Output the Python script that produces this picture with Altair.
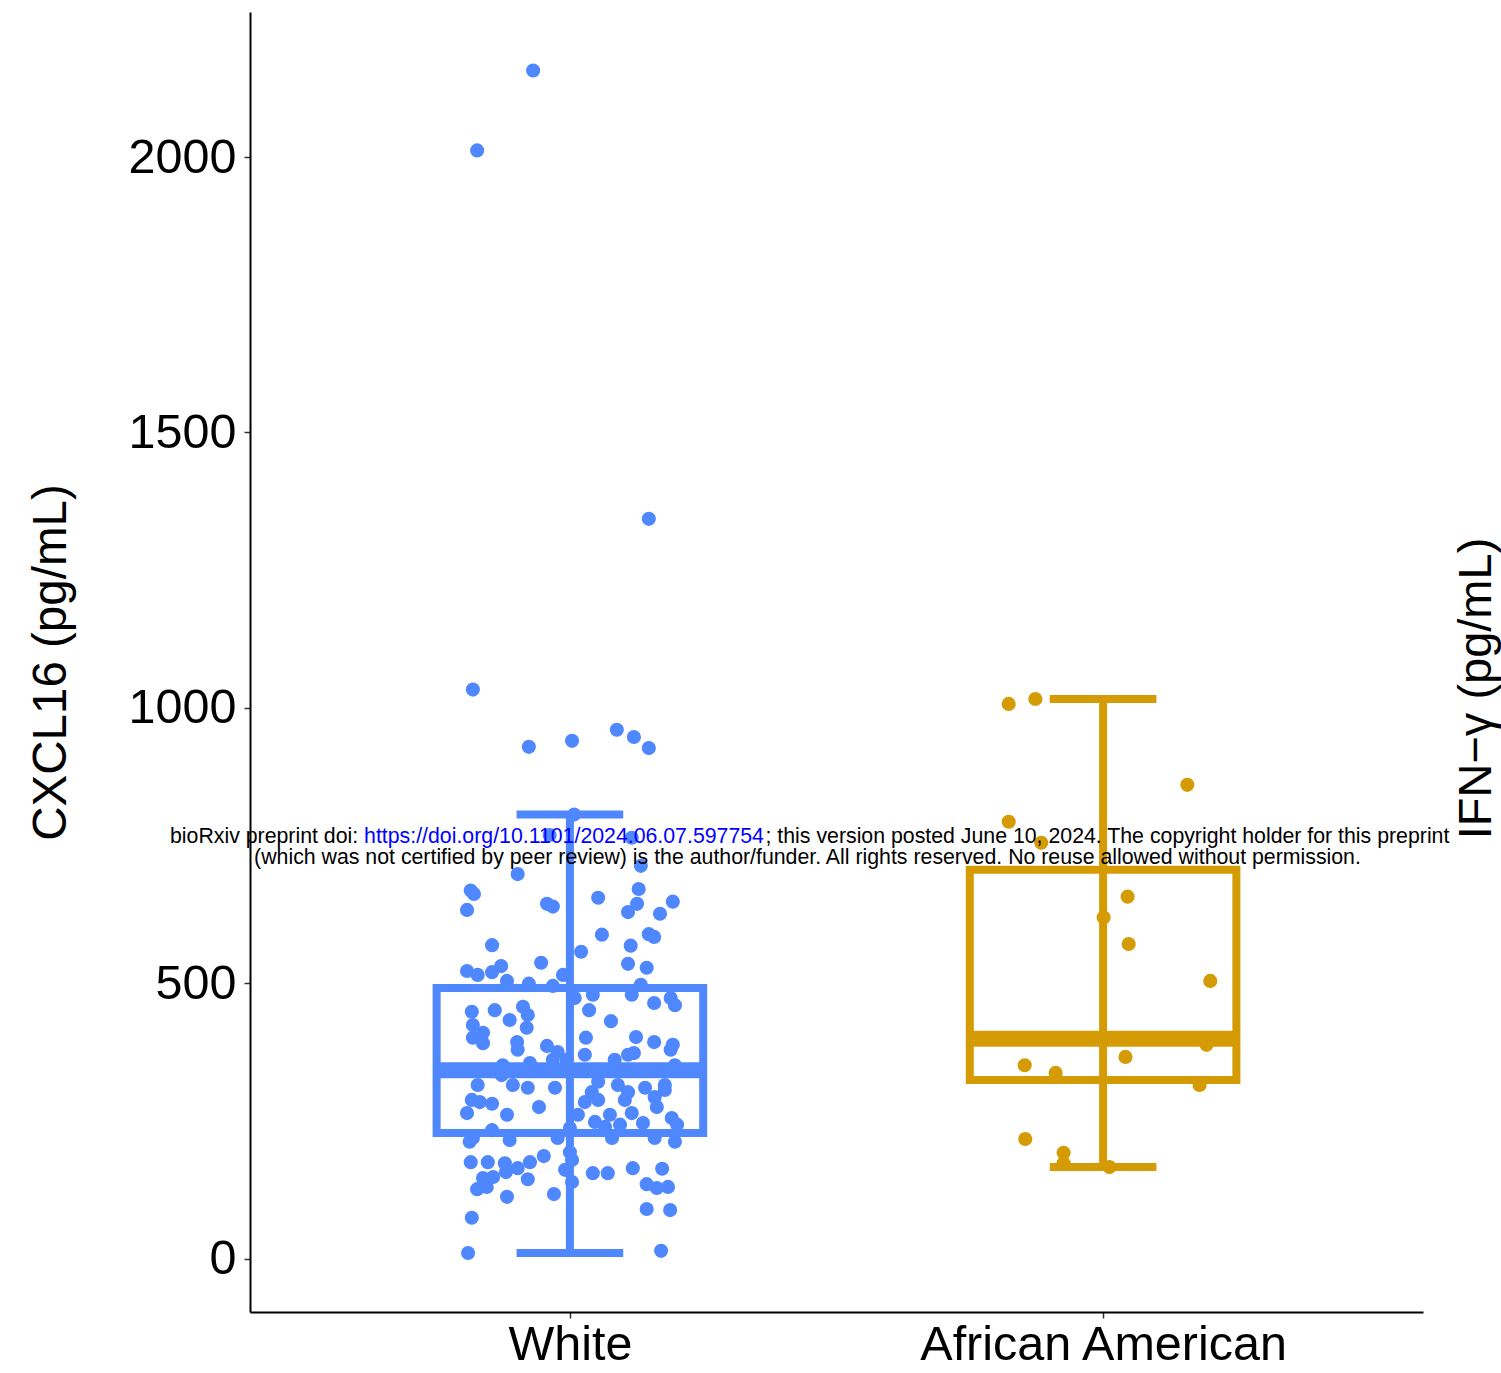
import altair as alt
import pandas as pd

FONT = "Liberation Sans, Arial, Helvetica, sans-serif"

categories = ["White", "African American"]
colors = ["#4F87FE", "#D49B05"]

# jitter offsets (in category units) and CXCL16 values (pg/mL)
white_jitter = [-0.069, -0.174, 0.148, -0.182, -0.077, 0.004, 0.088, 0.120, 0.148, 0.008,
                -0.038, 0.116, -0.098, 0.133, -0.186, -0.180, -0.193, -0.043, -0.032, 0.053,
                0.129, 0.126, 0.109, 0.169, 0.193, -0.146, 0.060, 0.114, 0.148, 0.158,
                0.021, -0.193, -0.173, -0.146, -0.129, -0.054, 0.109, 0.144, -0.118, -0.077,
                -0.032, -0.013, 0.133, 0.116, 0.043, 0.009, 0.158, 0.189, 0.197, 0.036,
                0.077, -0.184, -0.141, -0.113, -0.088, -0.079, -0.081, -0.182, -0.163, -0.182,
                -0.163, -0.099, -0.098, -0.043, -0.023, -0.032, 0.030, 0.124, 0.158, 0.193,
                0.189, 0.028, 0.084, 0.109, 0.120, 0.197, -0.126, -0.075, -0.006, -0.128,
                -0.173, -0.107, -0.079, -0.028, 0.053, 0.090, 0.041, 0.109, 0.141, 0.178,
                0.178, -0.184, -0.169, -0.146, -0.193, -0.118, -0.058, 0.028, 0.053, 0.103,
                0.159, 0.163, 0.075, 0.116, 0.015, 0.047, 0.066, 0.094, 0.137, 0.191,
                0.201, -0.182, -0.146, -0.113, -0.023, 0.000, 0.079, 0.159, 0.197, -0.188,
                0.000, -0.186, -0.154, -0.122, -0.098, -0.075, -0.049, 0.004, -0.009, -0.163,
                -0.144, -0.120, -0.079, -0.174, -0.156, -0.118, -0.030, 0.004, 0.043, 0.071,
                0.118, 0.173, 0.144, 0.163, 0.184, -0.184, 0.144, 0.188, -0.191, 0.171]
white_values = [2157, 2012, 1343, 1033, 929, 940, 960, 947, 927, 806,
                769, 764, 698, 713, 668, 662, 633, 644, 639, 655,
                671, 644, 629, 626, 648, 569, 588, 568, 589, 584,
                557, 522, 515, 520, 531, 537, 535, 528, 504, 499,
                495, 515, 497, 479, 479, 473, 464, 473, 460, 451,
                431, 448, 451, 433, 457, 442, 419, 424, 410, 401,
                391, 393, 379, 386, 375, 361, 401, 402, 393, 388,
                379, 370, 361, 370, 373, 351, 351, 355, 361, 333,
                315, 315, 310, 310, 321, 315, 302, 302, 310, 315,
                306, 288, 284, 281, 264, 261, 275, 284, 288, 288,
                293, 275, 261, 264, 261, 248, 239, 243, 246, 255,
                243, 219, 233, 215, 219, 237, 219, 219, 212, 212,
                193, 175, 175, 173, 164, 175, 186, 179, 161, 146,
                148, 157, 144, 126, 130, 112, 117, 139, 155, 155,
                164, 163, 135, 128, 130, 74, 90, 88, 10, 14]

aa_jitter = [-0.177, -0.127, 0.158, -0.177, -0.116, 0.046, 0.001, 0.048, 0.201,
             0.194, 0.042, -0.147, -0.089, 0.181, -0.146, -0.074, -0.074, 0.012]
aa_values = [1007, 1016, 860, 793, 755, 657, 619, 571, 504,
             388, 366, 351, 337, 315, 217, 192, 173, 166]

# box statistics
box_lower = [10, 166]
box_q1 = [228, 324]
box_median = [342, 399]
box_q3 = [491, 706]
box_upper = [806, 1016]

y_ticks = [0, 500, 1000, 1500, 2000]
y_title = "CXCL16 (pg/mL)"
right_title = "IFN\u2212\u03b3 (pg/mL)"
wm1_a = "bioRxiv preprint doi:"
wm1_b = "https://doi.org/10.1101/2024.06.07.597754"
wm1_c = "; this version posted June 10, 2024. The copyright holder for this preprint"
wm2 = "(which was not certified by peer review) is the author/funder. All rights reserved. No reuse allowed without permission."

pos_map = {c: i + 1 for i, c in enumerate(categories)}
pts = pd.DataFrame({
    "group": ["White"] * len(white_values) + ["African American"] * len(aa_values),
    "jitter": white_jitter + aa_jitter,
    "value": white_values + aa_values,
})
pts["pos"] = pts["group"].map(pos_map) + pts["jitter"]

box = pd.DataFrame({
    "group": categories,
    "pos": [pos_map[c] for c in categories],
    "lower": box_lower, "q1": box_q1, "median": box_median,
    "q3": box_q3, "upper": box_upper,
})

W, H = 1173, 1300
xscale = alt.Scale(domain=[0.4, 2.6], nice=False, zero=False)
yscale = alt.Scale(domain=[-97.1, 2263.3], nice=False, zero=False)

xaxis = alt.Axis(values=[1, 2], labelExpr="datum.value == 1 ? 'White' : 'African American'",
                 grid=False, domainColor="black", domainWidth=2, tickColor="#333333",
                 tickWidth=1.5, tickSize=6, labelFontSize=48.5, labelFont=FONT,
                 labelColor="black", labelPadding=3, labelFlush=False, labelOverlap=False,
                 labelLimit=0, title=None)
yaxis = alt.Axis(values=y_ticks, format="d", grid=False, domainColor="black", domainWidth=2,
                 tickColor="#333333", tickWidth=1.5, tickSize=6, labelFontSize=48.5,
                 labelFont=FONT, labelColor="black", labelPadding=8, labelFlush=False,
                 labelOverlap=False, labelLimit=0, title=None)

color = alt.Color("group:N", scale=alt.Scale(domain=categories, range=colors), legend=None)


def X(field):
    return alt.X(field, scale=xscale, axis=xaxis, title=None)


def Y(field):
    return alt.Y(field, scale=yscale, axis=yaxis, title=None)


bb = alt.Chart(box).transform_calculate(
    cl="datum.pos - 0.1", cr="datum.pos + 0.1",
    bl="datum.pos - 0.25", br="datum.pos + 0.25")

errbar = bb.mark_rule(strokeWidth=8, strokeCap="butt").encode(
    x=X("pos:Q"), y=Y("lower:Q"), y2="upper:Q", color=color)
cap_lo = bb.mark_rule(strokeWidth=8, strokeCap="butt").encode(
    x=X("cl:Q"), x2="cr:Q", y=Y("lower:Q"), color=color)
cap_hi = bb.mark_rule(strokeWidth=8, strokeCap="butt").encode(
    x=X("cl:Q"), x2="cr:Q", y=Y("upper:Q"), color=color)
rect = bb.mark_rect(filled=False, strokeWidth=8).encode(
    x=X("bl:Q"), x2="br:Q", y=Y("q1:Q"), y2="q3:Q", color=color)
med = bb.mark_rule(strokeWidth=16, strokeCap="butt").encode(
    x=X("bl:Q"), x2="br:Q", y=Y("median:Q"), color=color)

points = alt.Chart(pts).mark_circle(size=200, opacity=1).encode(
    x=X("pos:Q"), y=Y("value:Q"), color=color)


def label(txt, x, y, size, angle=0, align="left", fill="black"):
    return alt.Chart(pd.DataFrame({"t": [txt]})).mark_text(
        font=FONT, fontSize=size, angle=angle, align=align, baseline="alphabetic",
        color=fill).encode(text="t:N", x=alt.value(x), y=alt.value(y))


texts = [
    label(y_title, -184, 650.5, 47.5, angle=270, align="center"),
    label(right_title, 1241, 676.5, 47, angle=270, align="center"),
    label(wm1_a, -80, 831, 21.3),
    label(wm1_b, 114.1, 831, 21.3, fill="#0000FF"),
    label(wm1_c, 515.5, 831, 21.3),
    label(wm2, 557.5, 852, 21.3, align="center"),
]

chart = alt.layer(errbar, cap_lo, cap_hi, rect, med, points, *texts).properties(
    width=W, height=H,
    autosize=alt.AutoSizeParams(type="none"),
    padding={"left": 250, "top": 12, "right": 78, "bottom": 61},
    background="white",
).configure_view(stroke=None)

chart.save("out.html", embed_options={"renderer": "svg", "actions": False})
